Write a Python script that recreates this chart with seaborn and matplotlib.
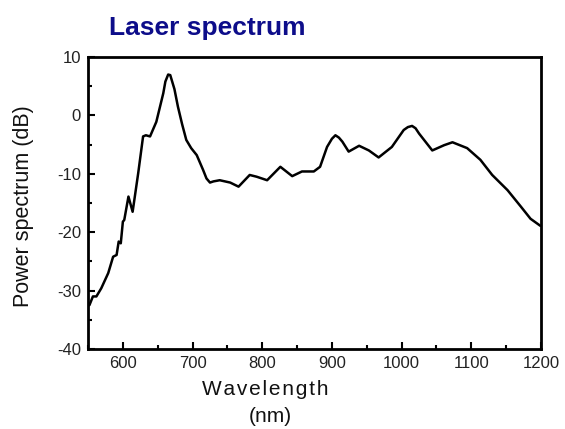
import matplotlib
matplotlib.use('Agg')
import matplotlib.pyplot as plt
import seaborn as sns
import pandas as pd
from matplotlib.ticker import MultipleLocator

# spectrum
wavelength = [552, 557, 562, 569, 579, 586, 591, 594, 597, 600, 602, 608, 614,
              622, 629, 633, 639, 648, 658, 661, 665, 668, 674, 679, 685, 691,
              698, 706, 715, 720, 725, 730, 739, 754, 766, 782, 792, 807, 826,
              843, 857, 874, 883, 893, 900, 905, 910, 915, 924, 939, 953, 967,
              986, 1003, 1009, 1015, 1020, 1025, 1044, 1061, 1073, 1094, 1113,
              1130, 1152, 1171, 1185, 1199]
power_db = [-32.5, -31.0, -31.0, -29.6, -27.0, -24.2, -23.9, -21.6, -21.9, -18.2,
            -17.9, -13.9, -16.5, -9.9, -3.6, -3.4, -3.6, -1.1, 3.8, 5.8, 7.0, 6.9,
            4.5, 1.5, -1.5, -4.2, -5.6, -6.8, -9.3, -10.8, -11.5, -11.3, -11.1,
            -11.5, -12.2, -10.2, -10.5, -11.1, -8.8, -10.4, -9.6, -9.6, -8.8,
            -5.4, -4.0, -3.4, -3.8, -4.5, -6.2, -5.2, -6.0, -7.2, -5.4, -2.5,
            -2.0, -1.8, -2.2, -3.1, -6.0, -5.1, -4.6, -5.6, -7.6, -10.2, -12.8,
            -15.6, -17.7, -18.9]

df = pd.DataFrame({'Wavelength': wavelength, 'Power': power_db})

sns.set_style('white')
plt.rcParams['font.family'] = ['Liberation Sans', 'DejaVu Sans']
plt.rcParams['axes.unicode_minus'] = False

fig = plt.figure(figsize=(5.65, 4.29), dpi=100)
ax = fig.add_axes([0.1558, 0.1865, 0.8017, 0.6806])
sns.lineplot(data=df, x='Wavelength', y='Power', color='black', linewidth=1.8, ax=ax)

ax.set_xlim(550, 1200)
ax.set_ylim(-40, 10)
ax.xaxis.set_major_locator(MultipleLocator(100))
ax.xaxis.set_minor_locator(MultipleLocator(50))
ax.yaxis.set_major_locator(MultipleLocator(10))
ax.yaxis.set_minor_locator(MultipleLocator(5))
ax.tick_params(which='both', direction='in', bottom=True, left=True,
               top=False, right=False, width=1.5, labelsize=12,
               colors='black', labelcolor='#222222', pad=5)
ax.tick_params(which='major', length=5)
ax.tick_params(which='minor', length=3)
for s in ax.spines.values():
    s.set_linewidth(2)
    s.set_color('black')
ax.set_xlabel('')
ax.set_ylabel('')

fig.text(0.367, 0.935, 'Laser spectrum', color='#0d0d8a', fontsize=19,
         fontweight='bold', ha='center', va='center')
fig.text(0.041, 0.52, 'Power spectrum (dB)', rotation=90, fontsize=15.5,
         color='#111111', ha='center', va='center')
fig.text(0.47, 0.093, '\u200a'.join('Wavelength'), fontsize=15,
         color='#111111', ha='center', va='center')
fig.text(0.478, 0.028, '(nm)', fontsize=15, color='#111111',
         ha='center', va='center')

fig.savefig('out.png', dpi=100)
